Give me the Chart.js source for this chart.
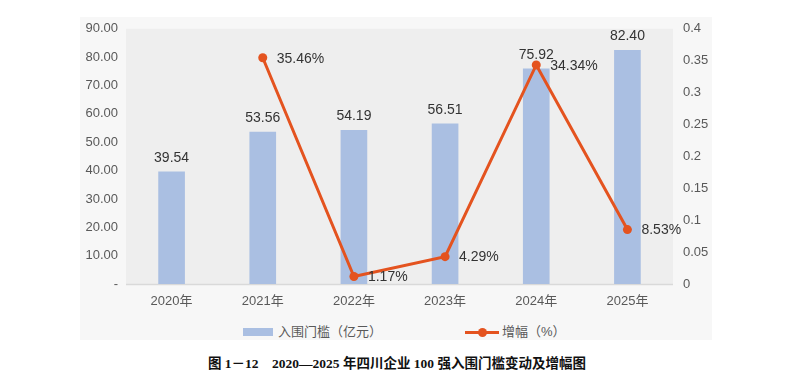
<!DOCTYPE html>
<html><head><meta charset="utf-8">
<script src="https://cdn.jsdelivr.net/npm/chart.js@4/dist/chart.umd.min.js"></script>
<style>
html,body{margin:0;padding:0;background:#fff;width:800px;height:387px;overflow:hidden;}
#box{position:absolute;left:80px;top:17px;width:632px;height:323px;background:#f7f7f7;}
#c{position:absolute;left:0;top:2px;}
.lg{position:absolute;top:306px;font:13px "Liberation Sans","Noto Sans CJK SC",sans-serif;color:#595959;line-height:18px;}
.sw{position:absolute;}
#cap{position:absolute;left:0;width:794px;top:352px;text-align:center;font:bold 13.5px "Liberation Serif","Noto Sans CJK SC",serif;color:#111;}
</style></head><body>
<div id="box">
<canvas id="c" width="632" height="300"></canvas>
<div class="sw" style="left:163px;top:311px;width:30px;height:8px;background:#aabfe2;"></div>
<div class="lg" style="left:198px;">入围门槛（亿元）</div>
<div class="sw" style="left:385px;top:314px;width:34px;height:3px;background:#e4531f;"></div>
<div class="sw" style="left:398px;top:311px;width:9px;height:9px;border-radius:50%;background:#e4531f;"></div>
<div class="lg" style="left:422px;">增幅（%）</div>
</div>
<div id="cap">图 1－12　2020—2025 年四川企业 100 强入围门槛变动及增幅图</div>
<script>
const categories = ['2020年','2021年','2022年','2023年','2024年','2025年'];
const thresholdValues = [39.54, 53.56, 54.19, 56.51, 75.92, 82.40];
const growthValues = [null, 0.3546, 0.0117, 0.0429, 0.3434, 0.0853];
const growthLabels = ['', '35.46%', '1.17%', '4.29%', '34.34%', '8.53%'];

const bgPlugin = {
  id:'bg',
  beforeDraw(chart){
    const {ctx, chartArea:a} = chart;
    ctx.save();
    ctx.fillStyle = '#eeeeee';
    ctx.fillRect(a.left, a.top, a.right-a.left, a.bottom-a.top);
    ctx.strokeStyle = '#d9d9d9';
    ctx.lineWidth = 1.5;
    ctx.beginPath();
    ctx.moveTo(a.left, a.bottom+0.5);
    ctx.lineTo(a.right, a.bottom+0.5);
    ctx.stroke();
    ctx.restore();
  }
};
const labelPlugin = {
  id:'labels',
  afterDatasetsDraw(chart){
    const ctx = chart.ctx;
    ctx.save();
    ctx.font = '14px "Liberation Sans", sans-serif';
    ctx.fillStyle = '#333333';
    const bm = chart.getDatasetMeta(1);
    ctx.textAlign = 'center';
    ctx.textBaseline = 'bottom';
    bm.data.forEach((el,i)=>{
      ctx.fillText(thresholdValues[i].toFixed(2), el.x, el.y - 7);
    });
    const lm = chart.getDatasetMeta(0);
    ctx.textAlign = 'left';
    ctx.textBaseline = 'middle';
    lm.data.forEach((el,i)=>{
      if (growthValues[i] === null) return;
      ctx.fillText(growthLabels[i], el.x + 14, el.y + 1);
    });
    ctx.restore();
  }
};

new Chart(document.getElementById('c'), {
  data:{
    labels: categories,
    datasets:[
      {type:'line', label:'增幅（%）', data: growthValues, yAxisID:'y1', order:0,
       borderColor:'#e4531f', backgroundColor:'#e4531f', borderWidth:3,
       pointRadius:4.5, pointHoverRadius:4.5, pointBackgroundColor:'#e4531f', pointBorderWidth:0, tension:0, spanGaps:false},
      {type:'bar', label:'入围门槛（亿元）', data: thresholdValues, yAxisID:'y', order:1,
       backgroundColor:'#aabfe2', barThickness:26}
    ]
  },
  options:{
    responsive:false, animation:false, devicePixelRatio:1,
    layout:{padding:{top:7,left:0,right:0,bottom:0}},
    plugins:{legend:{display:false}, tooltip:{enabled:false}},
    scales:{
      x:{offset:true, grid:{display:false}, border:{display:false},
         ticks:{color:'#595959', font:{size:13, family:'"Liberation Sans","Noto Sans CJK SC",sans-serif'}, padding:2},
         afterFit(s){ s.height = 35; }},
      y:{position:'left', min:0, max:90, grid:{display:false}, border:{display:false},
         ticks:{stepSize:10, color:'#595959', padding:0, font:{size:13, family:'"Liberation Sans",sans-serif'},
                callback:(v)=> v===0 ? '-' : Number(v).toFixed(2)},
         afterFit(s){ s.width = 46; }},
      y1:{position:'right', min:0, max:0.4, grid:{display:false}, border:{display:false},
         ticks:{stepSize:0.05, color:'#595959', padding:2, font:{size:13, family:'"Liberation Sans",sans-serif'},
                callback:(v)=> String(Number(Number(v).toFixed(2)))},
         afterFit(s){ s.width = 39; }}
    }
  },
  plugins:[bgPlugin, labelPlugin]
});
</script>
</body></html>
